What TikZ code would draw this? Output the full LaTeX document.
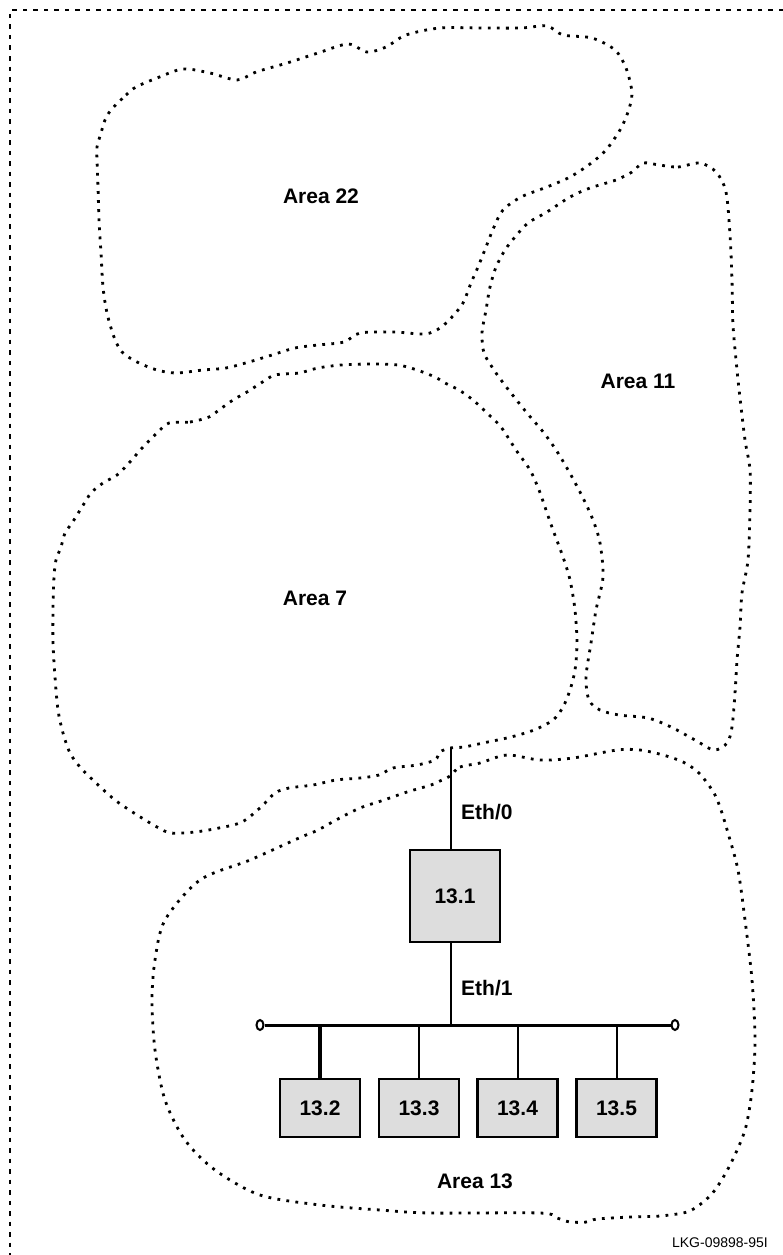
\documentclass[tikz,border=0pt]{standalone}
\usepackage{fontspec}
\setmainfont{Liberation Sans}
\usetikzlibrary{shapes.geometric}
\definecolor{boxgray}{HTML}{DDDDDD}
\begin{document}
\begin{tikzpicture}[x=1pt,y=-1pt,
  area/.style={line width=2.8pt, dash pattern=on 2.8pt off 6.3pt},
  frameline/.style={line width=2.4pt, dash pattern=on 4.5pt off 6pt},
  box/.style={draw, line width=2.5pt, fill=boxgray, inner sep=0pt,
    font=\fontsize{21}{24}\selectfont\bfseries},
  bigbox/.style={box, minimum width=90pt, minimum height=92pt},
  smallbox/.style={box, minimum width=80pt, minimum height=58pt},
  lbl/.style={font=\fontsize{21}{24}\selectfont\bfseries, inner sep=0pt},
  wire/.style={line width=2pt},
  endcap/.style={ellipse, draw, line width=2pt, fill=white, minimum width=7pt, minimum height=10pt, inner sep=0pt}
]
\useasboundingbox (0,0) rectangle (783,1255);
% frame
\coordinate (fTL) at (10,10);
\coordinate (fTR) at (783,10);
\coordinate (fBL) at (10,1255);
\draw[frameline] (fTR) -- (fTL) -- (fBL);

% Area 22
\draw[area] plot[smooth cycle] coordinates {
(111,110) (126,95) (136,87) (157,78) (183,69) (210,73) (237,80) (256,72) (287,63)
(318,53) (348,44) (367,52) (386,47) (406,35) (440,28) (482,28) (521,28) (547,26)
(563,35) (592,38) (615,50) (626,68) (632,93) (628,112) (620,130) (606,150) (590,164)
(570,177) (547,187) (521,197) (503,210) (494,227) (486,247) (478,267) (471,283)
(463,303) (452,317) (440,328) (425,334) (394,332) (360,333) (344,342) (318,345)
(295,348) (272,355) (249,362) (226,368) (203,370) (176,373) (157,370) (137,362)
(122,352) (114,337) (107,313) (103,287) (101,253) (99,220) (98,187) (97,160)
(97,147) (101,133) (105,120)};

% Area 11
\draw[area] plot[smooth cycle] coordinates {
(659,165) (678,167) (700,163) (716,172) (726,192) (730,235) (732,280) (733,325)
(737,370) (740,398) (745,440) (750,470) (750,510) (748,560) (742,593) (740,627)
(737,660) (735,693) (732,727) (727,743) (714,750) (695,740) (671,727) (648,718)
(619,715) (600,710) (589,700) (586,677) (591,643) (596,610) (603,577) (600,543)
(593,520) (584,500) (572,477) (558,453) (544,433) (527,413) (511,393) (501,380)
(494,370) (484,353) (482,333) (486,310) (490,287) (496,267) (505,250) (515,237)
(528,223) (547,212) (570,197) (590,188) (616,180) (632,172) (643,163)};

% Area 7
\draw[area] plot[smooth cycle] coordinates {
(169,423) (190,422) (209,417) (219,410) (233,400) (247,392) (261,383) (275,375)
(299,373) (318,368) (341,365) (369,364) (398,365) (417,370) (435,377) (445,383)
(459,390) (473,400) (487,413) (501,427) (516,450) (530,470) (539,490) (546,510)
(553,530) (563,557) (570,580) (575,610) (577,643) (575,670) (570,690) (563,707)
(553,720) (534,730) (511,737) (483,743) (464,747) (450,748) (440,752) (435,760)
(417,765) (393,768) (379,775) (360,778) (336,780) (313,785) (289,788) (275,793)
(261,807) (242,822) (219,828) (195,832) (171,833) (157,827) (134,813) (115,800)
(96,783) (80,767) (70,753) (63,733) (58,710) (55,677) (53,643) (53,610) (54,577)
(56,560) (61,547) (65,533) (72,523) (82,507) (91,493) (103,483) (117,475)
(129,463) (143,447) (157,433)};

% Area 13
\draw[area] plot[smooth cycle] coordinates {
(450,776) (460,767) (480,763) (507,755) (540,760) (573,758) (617,750) (640,750)
(663,755) (683,762) (699,773) (714,793) (721,810) (728,833) (738,870) (745,920)
(752,980) (755,1040) (752,1090) (745,1130) (730,1165) (715,1190) (702,1203)
(687,1212) (660,1216) (630,1217) (597,1219) (587,1222) (570,1222) (557,1218)
(540,1213) (430,1213) (380,1210) (320,1205) (260,1195) (215,1170) (185,1140)
(165,1100) (155,1050) (152,1000) (155,960) (165,920) (200,880) (250,860)
(299,838) (318,830) (336,820) (360,808) (384,800) (407,792) (431,785) (440,781)};

% area labels
\node[lbl] (a22) at (321,196) {Area 22};
\node[lbl] (a11) at (638,381) {Area 11};
\node[lbl] (a7) at (315,598) {Area 7};
\node[lbl] (a13) at (475,1181) {Area 13};

% router and hosts
\node[bigbox] (n131) at (455,896) {13.1};
\node[smallbox] (n132) at (320,1108) {13.2};
\node[smallbox] (n133) at (419,1108) {13.3};
\node[smallbox] (n134) at (517.5,1108) {13.4};
\node[smallbox] (n135) at (616.5,1108) {13.5};

% Eth/0 link
\coordinate (e0) at (451,748);
\draw[wire] (e0) -- (e0 |- n131.north);
\node[lbl, anchor=west] (eth0) at (461,812) {Eth/0};

% bus
\coordinate (j) at (451,1025);
\node[endcap] (capL) at (260,1025) {};
\node[endcap] (capR) at (675,1025) {};
\draw[line width=3pt] (capL.east) -- (capR.west);
\draw[wire] (j |- n131.south) -- (j);
\node[lbl, anchor=west] (eth1) at (461,988) {Eth/1};

\draw[line width=3.5pt] (n132.north) -- (n132.north |- j);
\draw[wire] (n133.north) -- (n133.north |- j);
\draw[wire] (n134.north) -- (n134.north |- j);
\draw[wire] (n135.north) -- (n135.north |- j);

\node[font=\fontsize{14}{16}\selectfont, anchor=east, inner sep=0pt] (code) at (768,1243) {LKG-09898-95I};
\end{tikzpicture}
\end{document}
